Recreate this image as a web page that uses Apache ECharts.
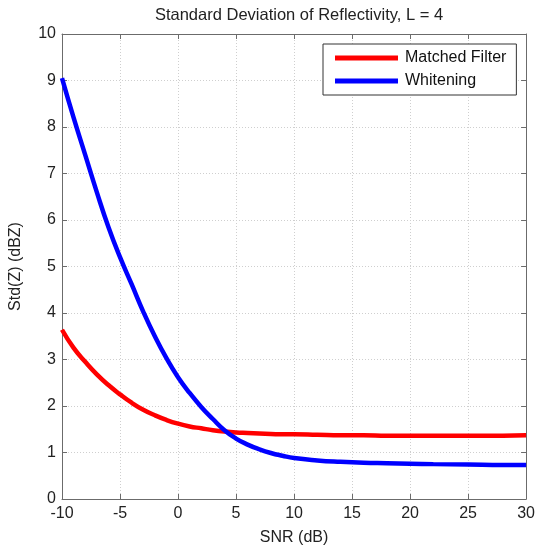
<!DOCTYPE html>
<html>
<head>
<meta charset="utf-8">
<script src="https://cdn.jsdelivr.net/npm/echarts@6/dist/echarts.min.js"></script>
<style>
html,body{margin:0;padding:0;background:#fff;}
#chart{width:538px;height:551px;}
</style>
</head>
<body>
<div id="chart"></div>
<script>
var snr = [-10,-9,-8,-7,-6,-5,-4,-3,-2,-1,0,1,2,3,4,5,6,7,8,9,10,12,14,16,18,20,22,25,28,30];
var matchedFilter = [3.64,3.25,2.95,2.68,2.45,2.25,2.07,1.92,1.80,1.70,1.62,1.56,1.52,1.48,1.45,1.43,1.42,1.41,1.40,1.39,1.39,1.38,1.37,1.37,1.36,1.36,1.36,1.36,1.36,1.37];
var whitening = [9.05,8.2,7.4,6.6,5.85,5.2,4.62,4.03,3.5,3.03,2.62,2.28,1.98,1.72,1.48,1.30,1.17,1.07,0.99,0.93,0.88,0.83,0.80,0.78,0.77,0.76,0.75,0.74,0.73,0.73];
var seriesNames = ['Matched Filter','Whitening'];
var titleText = 'Standard Deviation of Reflectivity, L = 4';
var xName = 'SNR (dB)';
var yName = 'Std(Z) (dBZ)';

function pairs(xs, ys){ return xs.map(function(x,i){ return [x, ys[i]]; }); }

var FONT = 'Liberation Sans, Arial, Helvetica, sans-serif';
var chart = echarts.init(document.getElementById('chart'), null, {renderer:'canvas'});
var axisLineStyle = {color:'#6b6b6b', width:1};
var gridLine = {show:true, lineStyle:{color:'#cfcfcf', type:[1,2], width:1}};
chart.setOption({
  animation:false,
  backgroundColor:'#ffffff',
  title:{
    text:titleText, left:294, top:2, textAlign:'center',
    textStyle:{fontFamily:FONT, fontSize:16.5, fontWeight:'normal', color:'#222'}
  },
  legend:{
    data:seriesNames, orient:'vertical', left:323, top:44,
    padding:[6,10,6,12], itemGap:7, itemWidth:63, itemHeight:5, icon:'rect',
    borderColor:'#333', borderWidth:1, backgroundColor:'#fff',
    textStyle:{fontFamily:FONT, fontSize:16, color:'#111', lineHeight:16, padding:[0,0,0,2]}
  },
  grid:{left:60, right:10, top:34, bottom:52, show:false},
  xAxis:[{
    type:'value', min:-10, max:30, interval:5, position:'bottom',
    name:xName, nameLocation:'middle', nameGap:31,
    nameTextStyle:{fontFamily:FONT, fontSize:16, color:'#222'},
    axisLine:{show:true, lineStyle:axisLineStyle},
    axisTick:{show:true, inside:true, length:5, lineStyle:axisLineStyle},
    axisLabel:{fontFamily:FONT, fontSize:16, color:'#222', margin:7},
    splitLine:gridLine
  },{
    type:'value', min:-10, max:30, interval:5, position:'top',
    axisLine:{show:true, onZero:false, lineStyle:axisLineStyle},
    axisTick:{show:true, inside:true, length:5, lineStyle:axisLineStyle},
    axisLabel:{show:false}, splitLine:{show:false}
  }],
  yAxis:[{
    type:'value', min:0, max:10, interval:1, position:'left',
    name:yName, nameLocation:'middle', nameGap:38, nameRotate:90,
    nameTextStyle:{fontFamily:FONT, fontSize:16, color:'#222'},
    axisLine:{show:true, onZero:false, lineStyle:axisLineStyle},
    axisTick:{show:true, inside:true, length:5, lineStyle:axisLineStyle},
    axisLabel:{fontFamily:FONT, fontSize:16, color:'#222', margin:6},
    splitLine:gridLine
  },{
    type:'value', min:0, max:10, interval:1, position:'right',
    axisLine:{show:true, onZero:false, lineStyle:axisLineStyle},
    axisTick:{show:true, inside:true, length:5, lineStyle:axisLineStyle},
    axisLabel:{show:false}, splitLine:{show:false}
  }],
  series:[{
    name:seriesNames[0], type:'line', data:pairs(snr, matchedFilter),
    showSymbol:false, smooth:true,
    lineStyle:{color:'#ff0000', width:4.5}, itemStyle:{color:'#ff0000'}
  },{
    name:seriesNames[1], type:'line', data:pairs(snr, whitening),
    showSymbol:false, smooth:true,
    lineStyle:{color:'#0000ff', width:4.5}, itemStyle:{color:'#0000ff'}
  }]
});
</script>
</body>
</html>
